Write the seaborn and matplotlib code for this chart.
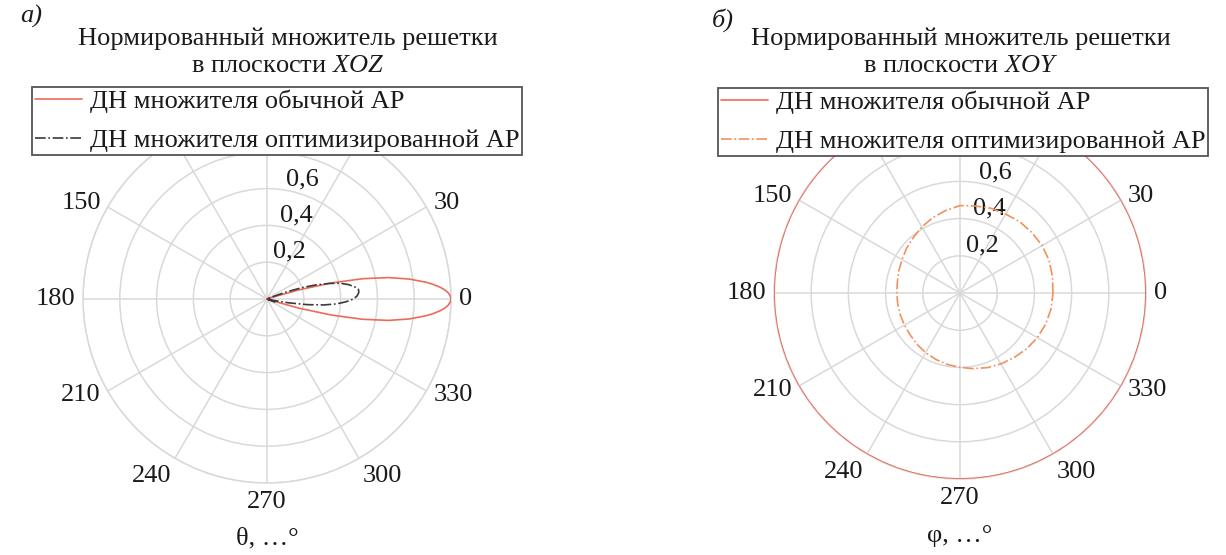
import numpy as np
import matplotlib
matplotlib.use("Agg")
import matplotlib.pyplot as plt
import seaborn as sns

# ---------------- data ----------------
# Plane XOZ, conventional array (solid red)
theta_conv_xoz_deg = [-24, -22, -20, -18, -16, -14, -12, -10, -8, -6, -5, -4, -3, -2, -1, 0,
                      1, 2, 3, 4, 5, 6, 8, 10, 12, 14, 16, 18, 20, 22, 24]
r_conv_xoz = [0.0, 0.02, 0.0, 0.03, 0.18, 0.36, 0.53, 0.67, 0.78, 0.87, 0.907, 0.94, 0.966, 0.985, 0.996, 1.0,
              0.996, 0.985, 0.966, 0.94, 0.907, 0.87, 0.78, 0.67, 0.53, 0.36, 0.18, 0.03, 0.0, 0.02, 0.0]

# Plane XOZ, optimized array (dash-dot dark)
theta_opt_xoz_deg = [-24, -22, -20, -18, -16, -14, -12, -10, -8, -6, -4, -2, 0,
                     2, 4, 6, 8, 10, 12, 14, 16, 18, 20, 22, 24]
r_opt_xoz = [0.0, 0.03, 0.045, 0.04, 0.02, 0.0, 0.04, 0.12, 0.22, 0.31, 0.38, 0.43, 0.47,
             0.49, 0.5, 0.5, 0.48, 0.45, 0.41, 0.35, 0.28, 0.2, 0.11, 0.03, 0.0]

# Plane XOY, conventional array (solid red)
phi_conv_xoy_deg = [0, 5, 10, 15, 20, 25, 30, 35, 40, 45, 50, 55, 60, 65, 70, 75, 80, 85,
                    90, 95, 100, 105, 110, 115, 120, 125, 130, 135, 140, 145, 150, 155, 160, 165, 170, 175,
                    180, 185, 190, 195, 200, 205, 210, 215, 220, 225, 230, 235, 240, 245, 250, 255, 260, 265,
                    270, 275, 280, 285, 290, 295, 300, 305, 310, 315, 320, 325, 330, 335, 340, 345, 350, 355,
                    360]
r_conv_xoy = [1.0, 1.0, 1.0, 1.0, 1.0, 1.0, 1.0, 1.0, 1.0, 1.0, 1.0, 1.0, 1.0, 1.0, 1.0, 1.0, 1.0, 1.0,
              1.0, 1.0, 1.0, 1.0, 1.0, 1.0, 1.0, 1.0, 1.0, 1.0, 1.0, 1.0, 1.0, 1.0, 1.0, 1.0, 1.0, 1.0,
              1.0, 1.0, 1.0, 1.0, 1.0, 1.0, 1.0, 1.0, 1.0, 1.0, 1.0, 1.0, 1.0, 1.0, 1.0, 1.0, 1.0, 1.0,
              1.0, 1.0, 1.0, 1.0, 1.0, 1.0, 1.0, 1.0, 1.0, 1.0, 1.0, 1.0, 1.0, 1.0, 1.0, 1.0, 1.0, 1.0,
              1.0]

# Plane XOY, optimized array (dash-dot orange)
phi_opt_xoy_deg = [0, 10, 20, 30, 40, 50, 60, 70, 80, 90, 100, 110, 120, 130, 140, 150, 160, 170,
                   180, 190, 200, 210, 220, 230, 240, 250, 260, 270, 280, 290, 300, 310, 320, 330, 340, 350,
                   360]
r_opt_xoy = [0.50, 0.505, 0.51, 0.51, 0.505, 0.50, 0.49, 0.485, 0.475, 0.47, 0.45, 0.43, 0.41, 0.39,
             0.375, 0.36, 0.35, 0.342, 0.34, 0.34, 0.342, 0.345, 0.35, 0.36, 0.37, 0.38, 0.39, 0.40,
             0.413, 0.427, 0.44, 0.453, 0.467, 0.48, 0.49, 0.497, 0.50]

theta_ticks = [0, 30, 60, 90, 120, 150, 180, 210, 240, 270, 300, 330]
theta_tick_labels = ["0", "30", "", "", "", "150", "180", "210", "240", "270", "300", "330"]
r_ticks = [0.2, 0.4, 0.6, 0.8, 1.0]
r_tick_labels = ["0,2", "0,4", "0,6", "", ""]

label_conv = "ДН множителя обычной АР"
label_opt = "ДН множителя оптимизированной АР"
title_line1 = "Нормированный множитель решетки"
title_xoz = "в плоскости $\\mathit{XOZ}$"
title_xoy = "в плоскости $\\mathit{XOY}$"
xlabel_a = "θ, …°"
xlabel_b = "φ, …°"

# ---------------- style ----------------
sns.set_theme(style="white")
plt.rcParams["font.family"] = ["Liberation Serif", "DejaVu Serif"]
plt.rcParams["font.size"] = 19
plt.rcParams["mathtext.fontset"] = "custom"
plt.rcParams["mathtext.rm"] = "Liberation Serif"
plt.rcParams["mathtext.it"] = "Liberation Serif:italic"
plt.rcParams["text.color"] = "#1a1a1a"

RED = "#ee6a5b"
ORANGE = "#f0915e"
DARK = "#3a3a3a"
GRID = "#d9d9d9"
FS = 19

W, H = 1226, 555
fig = plt.figure(figsize=(W / 100, H / 100), dpi=100)


def box(cx, cy, R):
    return [(cx - R) / W, (H - cy - R) / H, 2 * R / W, 2 * R / H]


ax1 = fig.add_axes(box(267, 299, 184), projection="polar")
ax2 = fig.add_axes(box(960, 293, 186), projection="polar")

sns.lineplot(x=np.deg2rad(theta_conv_xoz_deg), y=r_conv_xoz, ax=ax1, sort=False, estimator=None,
             color=RED, linewidth=1.2, label=label_conv)
sns.lineplot(x=np.deg2rad(theta_opt_xoz_deg), y=r_opt_xoz, ax=ax1, sort=False, estimator=None,
             color=DARK, linewidth=1.2, linestyle="-.", label=label_opt)
sns.lineplot(x=np.deg2rad(phi_conv_xoy_deg), y=r_conv_xoy, ax=ax2, sort=False, estimator=None,
             color=RED, linewidth=1.2, label=label_conv)
sns.lineplot(x=np.deg2rad(phi_opt_xoy_deg), y=r_opt_xoy, ax=ax2, sort=False, estimator=None,
             color=ORANGE, linewidth=1.2, linestyle="-.", label=label_opt)

align = {0: ("left", "center"), 30: ("left", "center"), 60: ("left", "bottom"),
         90: ("center", "bottom"), 120: ("right", "bottom"), 150: ("right", "center"),
         180: ("right", "center"), 210: ("right", "center"), 240: ("right", "top"),
         270: ("center", "top"), 300: ("left", "top"), 330: ("left", "center")}


def style(ax):
    ax.set_ylim(0, 1)
    ax.set_yticks(r_ticks, r_tick_labels)
    ax.set_rlabel_position(80)
    ax.set_thetagrids(theta_ticks, theta_tick_labels)
    ax.grid(True, color=GRID, linewidth=1.1)
    ax.spines["polar"].set_color(GRID)
    ax.spines["polar"].set_linewidth(1.1)
    ax.tick_params(axis="x", size=0, pad=-1.3, labelsize=FS, labelcolor="#1a1a1a")
    ax.tick_params(axis="y", size=0, labelsize=FS, labelcolor="#1a1a1a")
    for tick, ang in zip(ax.xaxis.get_major_ticks(), theta_ticks):
        ha, va = align[ang]
        tick.label1.set_horizontalalignment(ha)
        tick.label1.set_verticalalignment(va)
    ax.set_xlabel("")
    ax.set_ylabel("")
    for ln in ax.lines:
        ln.set_zorder(3)


style(ax1)
style(ax2)


def add_legend(ax, x0, y0):
    handles, labels = ax.get_legend_handles_labels()
    leg = ax.legend(handles, labels, loc="upper left", bbox_to_anchor=(x0 / W, 1 - y0 / H),
                    bbox_transform=fig.transFigure, frameon=True, fancybox=False,
                    edgecolor="#555555", facecolor="white", framealpha=1, fontsize=FS,
                    borderpad=0.1, handlelength=1.8, handletextpad=0.28, labelspacing=0.6,
                    borderaxespad=0)
    leg.get_frame().set_linewidth(1.3)
    leg.set_zorder(10)
    return leg


add_legend(ax1, 32, 87)
add_legend(ax2, 718, 88)

# titles and labels
for cx, second in ((288, title_xoz), (961, title_xoy)):
    fig.text(cx / W, 1 - 45 / H, title_line1, ha="center", va="baseline", fontsize=FS)
    fig.text(cx / W, 1 - 72 / H, second, ha="center", va="baseline", fontsize=FS)

fig.text(20 / W, 1 - 16 / H, "а)", ha="left", va="center", fontsize=FS, style="italic")
fig.text(712 / W, 1 - 20 / H, "б)", ha="left", va="center", fontsize=FS, style="italic")

fig.text(267 / W, 1 - 538 / H, xlabel_a, ha="center", va="center", fontsize=FS)
fig.text(960 / W, 1 - 536 / H, xlabel_b, ha="center", va="center", fontsize=FS)

fig.savefig("out.png", dpi=100, facecolor="white")
